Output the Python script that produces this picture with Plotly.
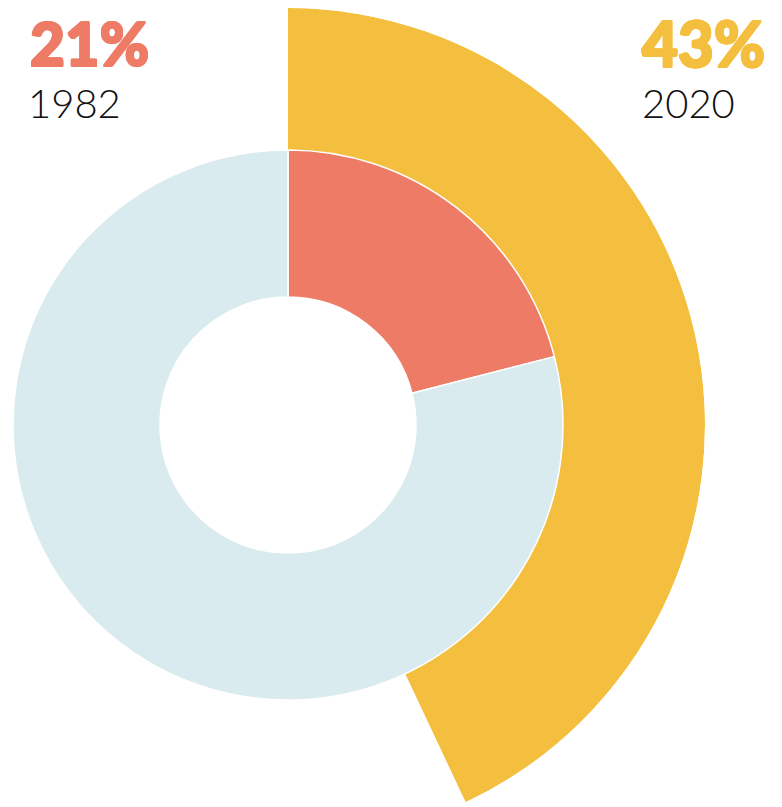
import math
import plotly.graph_objects as go

# ---- data ----
labels_1982 = ["Share", "Rest"]
values_1982 = [21, 79]
share_2020 = 43
year_labels = ["1982", "2020"]
pct_labels = ["21%", "43%"]

# ---- style ----
W, H = 782, 807
OFF = 8  # page body margin
CX, CY = 288.0 - OFF, 425.0 - OFF
R_IN, R_OUT, R_RING = 128.0, 275.0, 417.0
RED = "#EE7B66"
BLUE = "#D9EBEF"
YEL = "#F4BF3E"


def px_x(v):
    return v / W


def px_y(v):
    return 1 - v / H


fig = go.Figure()

fig.add_trace(go.Pie(
    labels=labels_1982, values=values_1982,
    hole=R_IN / R_OUT, sort=False, direction="clockwise", rotation=0,
    marker=dict(colors=[RED, BLUE], line=dict(color="white", width=1.5)),
    textinfo="none", hoverinfo="label+percent", showlegend=False,
    domain=dict(x=[px_x(CX - R_OUT), px_x(CX + R_OUT)],
                y=[px_y(CY + R_OUT), px_y(CY - R_OUT)]),
))

# 2020 share as an outer arc (polar bar), angle proportional to share
ang = share_2020 / 100 * 360
fig.add_trace(go.Barpolar(
    theta=[ang / 2], width=[ang], r=[R_RING - R_OUT], base=[R_OUT],
    marker=dict(color=YEL, line=dict(width=0)),
    showlegend=False, hoverinfo="skip", subplot="polar",
))

sec = [90 - ang, 90]
ybot = -math.cos(math.radians(ang))
fig.update_layout(
    polar=dict(
        domain=dict(x=[px_x(CX), px_x(CX + R_RING)],
                    y=[max(0, px_y(CY + ybot * R_RING)), min(1, px_y(CY - R_RING))]),
        sector=sec, hole=0, bgcolor="rgba(0,0,0,0)",
        radialaxis=dict(range=[0, R_RING], visible=False),
        angularaxis=dict(rotation=90, direction="clockwise", visible=False,
                         showgrid=False),
    ),
    width=W, height=H, margin=dict(l=0, r=0, t=0, b=0),
    paper_bgcolor="white", plot_bgcolor="white",
)


def thick(c, d=0.9):
    return ", ".join(f"{dx}px {dy}px 0 {c}" for dx, dy in
                     [(d, 0), (-d, 0), (0, d), (0, -d), (d, d), (-d, d), (d, -d), (-d, -d)])


ann = [
    (pct_labels[0], 20, 35, RED, 60, 900, "left", thick(RED)),
    (year_labels[0], 18, 95, "#111111", 40, 300, "left", "none"),
    (pct_labels[1], 632, 35, YEL, 62, 900, "left", thick(YEL)),
    (year_labels[1], 632, 95, "#111111", 40, 300, "left", "none"),
]
for t, x, y, c, s, w, xa, sh in ann:
    fig.add_annotation(text=t, x=px_x(x), y=px_y(y), xref="paper", yref="paper",
                       xanchor=xa, yanchor="middle", showarrow=False,
                       font=dict(family="Lato", size=s, color=c, weight=w, shadow=sh))

fig.write_html("out.html")
